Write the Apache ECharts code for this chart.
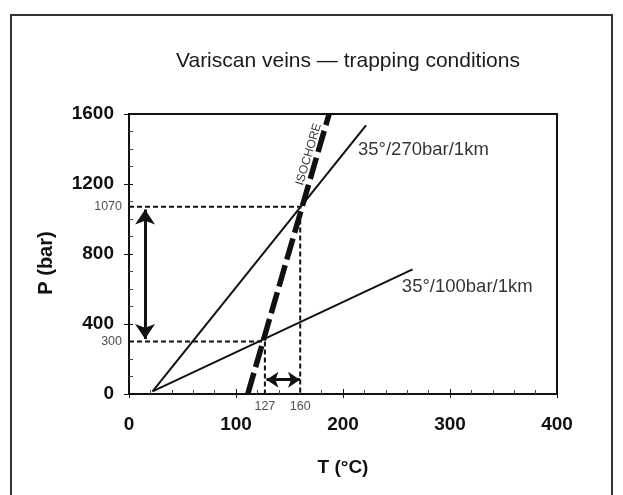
<!DOCTYPE html>
<html>
<head>
<meta charset="utf-8">
<script src="https://cdn.jsdelivr.net/npm/echarts@6/dist/echarts.min.js"></script>
<style>html,body{margin:0;padding:0;background:#fff}#c{width:623px;height:495px}</style>
</head>
<body>
<div id="c"></div>
<script>
// ---- data ----
const titleText = 'Variscan veins \u2014 trapping conditions';
const geotherm270 = [[22, 15], [221.5, 1535]];
const geotherm100 = [[22, 15], [265, 712]];
const isochore = [[111, 0], [187, 1600]];
const guideHigh = [[0, 1070], [160, 1070], [160, 0]];
const guideLow = [[0, 300], [127, 300], [127, 0]];
const pressureArrow = [[15, 1055], [15, 315]];
const tempArrow = [[128.5, 82], [159.8, 82]];
const label270 = { text: '35\u00b0/270bar/1km', at: [214, 1396] };
const label100 = { text: '35\u00b0/100bar/1km', at: [255, 613] };
const isoLabel = { text: 'ISOCHORE', at: [168, 1370] };
const pLabels = [[0, 1070, '1070'], [0, 300, '300']];
const tLabels = [[127, 0, '127'], [160, 0, '160']];

const FONT = "'Liberation Sans', Arial, sans-serif";
const INK = '#111';
const chart = echarts.init(document.getElementById('c'));

const axisCommon = {
  type: 'value',
  splitLine: { show: false },
  axisLine: { show: true, lineStyle: { color: INK, width: 2 } }
};
const plain = v => String(v);

chart.setOption({
  animation: false,
  backgroundColor: '#fff',
  title: {
    text: titleText, left: 171, top: 46,
    textStyle: { fontFamily: FONT, fontSize: 21, fontWeight: 'normal', color: '#1a1a1a' }
  },
  graphic: [{
    type: 'rect', shape: { x: 11, y: 15, width: 601, height: 520 },
    style: { fill: 'none', stroke: '#333', lineWidth: 2 }, silent: true
  }],
  grid: { left: 129, right: 66, top: 114, bottom: 101, show: true, borderColor: INK, borderWidth: 2, backgroundColor: 'transparent' },
  xAxis: [
    Object.assign({}, axisCommon, {
      min: 0, max: 400, interval: 100,
      name: 'T (\u00b0C)', nameLocation: 'middle', nameGap: 64,
      nameTextStyle: { fontFamily: FONT, fontSize: 19, fontWeight: 'bold', color: INK },
      axisTick: { inside: true, length: 5, lineStyle: { color: INK, width: 1 } },
      minorTick: { show: true, splitNumber: 5, length: 4, lineStyle: { color: '#444', width: 1 } },
      axisLabel: { margin: 21, formatter: plain, fontFamily: FONT, fontSize: 19, fontWeight: 'bold', color: INK }
    }),
    Object.assign({}, axisCommon, {
      min: 0, max: 400, interval: 100, position: 'bottom',
      axisLine: { show: false },
      axisTick: { inside: false, length: 4, lineStyle: { color: INK, width: 1 } },
      axisLabel: { show: false }
    })
  ],
  yAxis: [
    Object.assign({}, axisCommon, {
      min: 0, max: 1600, interval: 400,
      name: 'P (bar)', nameLocation: 'middle', nameGap: 73,
      nameTextStyle: { fontFamily: FONT, fontSize: 20, fontWeight: 'bold', color: INK, padding: [0, 18, 0, 0] },
      axisTick: { inside: false, length: 5, lineStyle: { color: INK, width: 1 } },
      axisLabel: { margin: 15, formatter: plain, fontFamily: FONT, fontSize: 19, fontWeight: 'bold', color: INK }
    }),
    Object.assign({}, axisCommon, {
      min: 0, max: 1600, interval: 400, position: 'left',
      axisLine: { show: false },
      axisTick: { inside: true, length: 4, lineStyle: { color: INK, width: 1 } },
      minorTick: { show: true, splitNumber: 4, length: 4, lineStyle: { color: '#444', width: 1 } },
      axisLabel: { show: false }
    })
  ],
  series: [
    { type: 'line', data: guideHigh, symbol: 'none', lineStyle: { color: INK, width: 2, type: [5, 3] }, z: 2 },
    { type: 'line', data: guideLow, symbol: 'none', lineStyle: { color: INK, width: 2, type: [5, 3] }, z: 2 },
    { type: 'line', data: geotherm270, symbol: 'none', lineStyle: { color: INK, width: 2 }, z: 3 },
    { type: 'line', data: geotherm100, symbol: 'none', lineStyle: { color: INK, width: 2 }, z: 3 },
    { type: 'line', data: isochore, symbol: 'none', lineStyle: { color: INK, width: 5.5, type: [22, 6] }, z: 4 },
    {
      type: 'lines', coordinateSystem: 'cartesian2d', z: 5,
      symbol: ['arrow', 'arrow'], symbolSize: 15,
      lineStyle: { color: INK, width: 3, opacity: 1 },
      data: [{ coords: pressureArrow }]
    },
    {
      type: 'lines', coordinateSystem: 'cartesian2d', z: 5,
      symbol: ['arrow', 'arrow'], symbolSize: 12,
      lineStyle: { color: INK, width: 3, opacity: 1 },
      data: [{ coords: tempArrow }]
    },
    {
      type: 'scatter', symbolSize: 0, clip: false, z: 6,
      data: [
        { value: label270.at, label: { formatter: label270.text } },
        { value: label100.at, label: { formatter: label100.text } }
      ],
      label: { show: true, position: 'right', distance: 0, fontFamily: FONT, fontSize: 18.5, color: '#000' }
    },
    {
      type: 'scatter', symbolSize: 0, clip: false, z: 6,
      data: [{ value: isoLabel.at, label: { formatter: isoLabel.text } }],
      label: { show: true, position: 'inside', rotate: 73.5, fontFamily: FONT, fontSize: 12, color: '#000' }
    },
    {
      type: 'scatter', symbolSize: 0, clip: false, z: 6,
      data: pLabels.map(d => ({ value: [d[0], d[1]], label: { formatter: d[2] } })),
      label: { show: true, position: 'left', distance: 7, fontFamily: FONT, fontSize: 12.5, color: '#222' }
    },
    {
      type: 'scatter', symbolSize: 0, clip: false, z: 6,
      data: tLabels.map(d => ({ value: [d[0], d[1]], label: { formatter: d[2] } })),
      label: { show: true, position: 'bottom', distance: 6, fontFamily: FONT, fontSize: 12.5, color: '#222' }
    }
  ]
});
</script>
</body>
</html>
